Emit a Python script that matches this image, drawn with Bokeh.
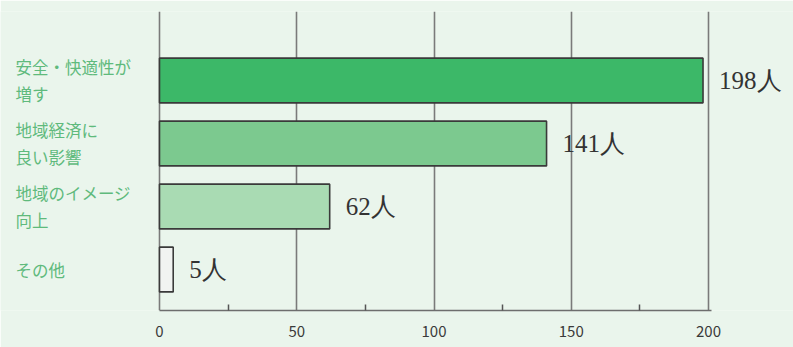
from bokeh.plotting import figure
from bokeh.models import (ColumnDataSource, Range1d, FixedTicker,
                          LabelSet, Label)
from bokeh.embed import file_html
from bokeh.resources import INLINE

# Survey answers and counts
categories = ["安全・快適性が\n増す", "地域経済に\n良い影響", "地域のイメージ\n向上", "その他"]
counts = [198, 141, 62, 5]
bar_colors = ["#3cb868", "#7cc98f", "#a9dbb3", "#f1f3f1"]
value_texts = [f"{c}人" for c in counts]
x_ticks = [0, 50, 100, 150, 200]
x_minor = [25, 75, 125, 175]

JP_FONT = "Noto Sans CJK JP"
BG = "#eaf5ec"

pos = list(range(len(categories)))
src = ColumnDataSource(dict(y=pos, right=counts, color=bar_colors, label=value_texts))

# The frame spans the whole canvas so the side labels stay visible;
# axis and grid are bounded to the 0-200 scale.
p = figure(width=793, height=347, output_backend="svg", toolbar_location=None,
           x_range=Range1d(-57.92, 230.96), y_range=Range1d(3.65, -1.095),
           min_border_left=0, min_border_right=0, min_border_top=11,
           min_border_bottom=37)
p.background_fill_color = BG
p.border_fill_color = BG
p.outline_line_color = None

p.hbar(y="y", left=0, right="right", height=0.71, fill_color="color",
       line_color="#3a3a3a", line_width=1.6, source=src)

p.xaxis.ticker = FixedTicker(ticks=x_ticks, minor_ticks=x_minor)
p.xaxis.bounds = (0, 201)
p.xaxis.axis_line_color = "#6e6e6e"
p.xaxis.axis_line_width = 1.6
p.xaxis.major_tick_in = 0
p.xaxis.major_tick_out = 0
p.xaxis.minor_tick_in = 6
p.xaxis.minor_tick_out = 0
p.xaxis.minor_tick_line_color = "#555555"
p.xaxis.minor_tick_line_width = 1.5
p.xaxis.major_label_text_font = JP_FONT
p.xaxis.major_label_text_font_size = "15px"
p.xaxis.major_label_text_color = "#3a3a3a"
p.xaxis.major_label_standoff = 15

p.xgrid.ticker = FixedTicker(ticks=x_ticks)
p.xgrid.grid_line_color = "#7a7a7a"
p.xgrid.grid_line_width = 1.6
p.ygrid.visible = False
p.yaxis.visible = False

# Count labels to the right of each bar
p.add_layout(LabelSet(x="right", y="y", text="label", source=src,
                      x_offset=16, text_baseline="middle", text_align="left",
                      text_font=JP_FONT, text_font_size="25px",
                      text_color="#333333"))

# Category names on the left, two lines each
for yi, cat in zip(pos, categories):
    p.add_layout(Label(x=-52.5, y=yi, text=cat, text_baseline="middle",
                       text_align="left", text_font=JP_FONT,
                       text_font_size="16.5px", text_color="#5fba7c",
                       text_line_height=1.15))

open("out.html", "w").write(file_html(p, INLINE))
